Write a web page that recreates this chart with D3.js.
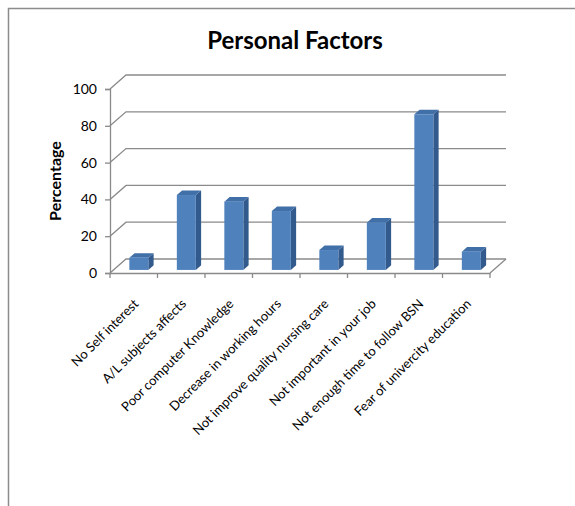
<!DOCTYPE html>
<html>
<head>
<meta charset="utf-8">
<script src="https://cdn.jsdelivr.net/npm/d3@7"></script>
<style>
  html, body { margin: 0; padding: 0; background: #fff; }
  svg { display: block; font-family: Lato, "Open Sans", sans-serif; }
</style>
</head>
<body>
<svg id="chart"></svg>
<script>
// chart data
const categories = [
  "No Self interest",
  "A/L subjects affects",
  "Poor computer Knowledge",
  "Decrease in working hours",
  "Not improve quality nursing care",
  "Not important in your job",
  "Not enough time to follow BSN",
  "Fear of univercity education",
];
const percentages = [6.6, 40.7, 37.1, 32.0, 10.8, 25.7, 84.6, 9.9];
const yTicks = [0, 20, 40, 60, 80, 100];
const chartTitle = "Personal Factors";
const yTitle = "Percentage";

const dims = {
  width: 575,
  height: 506,
  left: 110,
  right: 490,
  bottom: 273,
  top: 89,
  depth: { dx: 16, dy: -14 },
  bar: { front: 0.22, back: 0.55, offset: 0.333, width: 0.4 },
};

const gridColor = "#8a8a8a";
const colors = { front: "#4f81bd", side: "#325a8c", top: "#416fa8" };

const svg = d3
  .select("#chart")
  .attr("width", dims.width)
  .attr("height", dims.height)
  .attr("viewBox", [0, 0, dims.width, dims.height]);

// outer frame (only top and left edges are visible)
svg
  .append("path")
  .attr("d", `M8.5,${dims.height} V8.5 H${dims.width}`)
  .attr("fill", "none")
  .attr("stroke", "#8c8c8c")
  .attr("stroke-width", 1.5);

svg
  .append("text")
  .attr("x", 295)
  .attr("y", 49)
  .attr("text-anchor", "middle")
  .attr("font-size", 24)
  .attr("font-weight", "bold")
  .attr("fill", "#000")
  .text(chartTitle);

const xScale = d3
  .scaleBand()
  .domain(categories)
  .range([dims.left, dims.right])
  .padding(0);
const bw = xScale.bandwidth();

const yScale = d3.scaleLinear().domain([0, 100]).range([dims.bottom, dims.top]);

const dx = dims.depth.dx;
const dy = dims.depth.dy;

// walls: left wall diagonals + back wall gridlines
const walls = svg.append("g").attr("id", "walls");
yTicks.forEach((t) => {
  const y = yScale(t);
  walls
    .append("path")
    .attr("d", `M${dims.left},${y} L${dims.left + dx},${y + dy} H${dims.right + dx}`)
    .attr("fill", "none")
    .attr("stroke", gridColor)
    .attr("stroke-width", 1.3);
});
// floor right edge
walls
  .append("path")
  .attr("d", `M${dims.right + dx},${dims.bottom + dy} L${dims.right},${dims.bottom}`)
  .attr("fill", "none")
  .attr("stroke", gridColor)
  .attr("stroke-width", 1.3);

// y axis
svg
  .append("g")
  .attr("transform", `translate(${dims.left},0)`)
  .call(d3.axisLeft(yScale).tickValues(yTicks).tickSize(5).tickPadding(8))
  .call((g) => {
    g.select("path.domain").attr("stroke", gridColor).attr("stroke-width", 1.3);
    g.selectAll(".tick line").attr("stroke", gridColor).attr("stroke-width", 1.3);
    g.selectAll(".tick text")
      .attr("font-size", 14)
      .attr("font-family", "Lato")
      .attr("fill", "#000");
  });

// x axis (labels at band centres, ticks at band edges)
svg
  .append("g")
  .attr("transform", `translate(0,${dims.bottom})`)
  .call(d3.axisBottom(xScale).tickSize(0).tickSizeOuter(0))
  .call((g) => {
    g.select("path.domain").attr("stroke", gridColor).attr("stroke-width", 1.3);
    g.selectAll(".tick text")
      .attr("font-size", 13)
      .attr("font-family", "Lato")
      .attr("fill", "#000")
      .attr("text-anchor", "end")
      .attr("x", 0)
      .attr("y", 0)
      .attr("dy", "0.72em")
      .attr("transform", "translate(-1,25) rotate(-45)");
  });

svg
  .append("g")
  .selectAll("line")
  .data(categories.map((c) => xScale(c)).concat([dims.right]))
  .join("line")
  .attr("x1", (d) => d)
  .attr("x2", (d) => d)
  .attr("y1", dims.bottom)
  .attr("y2", dims.bottom + 5)
  .attr("stroke", gridColor)
  .attr("stroke-width", 1.3);

// y title
svg
  .append("text")
  .attr("transform", "translate(61,181) rotate(-90)")
  .attr("text-anchor", "middle")
  .attr("font-size", 16)
  .attr("font-weight", "bold")
  .attr("fill", "#000")
  .text(yTitle);

// 3D bars
const b = dims.bar;
svg
  .append("g")
  .attr("id", "bars")
  .selectAll("g")
  .data(categories.map((c, i) => ({ c, v: percentages[i] })))
  .join("g")
  .each(function (d) {
    const g = d3.select(this);
    const fx = xScale(d.c) + bw * b.offset + dx * b.front;
    const w = bw * b.width;
    const top = yScale(d.v) + dy * b.front;
    const bot = yScale(0) + dy * b.front;
    const ddx = dx * (b.back - b.front);
    const ddy = dy * (b.back - b.front);
    g.append("path")
      .attr("d", `M${fx + w},${top} l${ddx},${ddy} V${bot + ddy} L${fx + w},${bot} Z`)
      .attr("fill", colors.side);
    g.append("path")
      .attr("d", `M${fx},${top} l${ddx},${ddy} h${w} L${fx + w},${top} Z`)
      .attr("fill", colors.top);
    g.append("rect")
      .attr("x", fx)
      .attr("y", top)
      .attr("width", w)
      .attr("height", bot - top)
      .attr("fill", colors.front);
  });
</script>
</body>
</html>
